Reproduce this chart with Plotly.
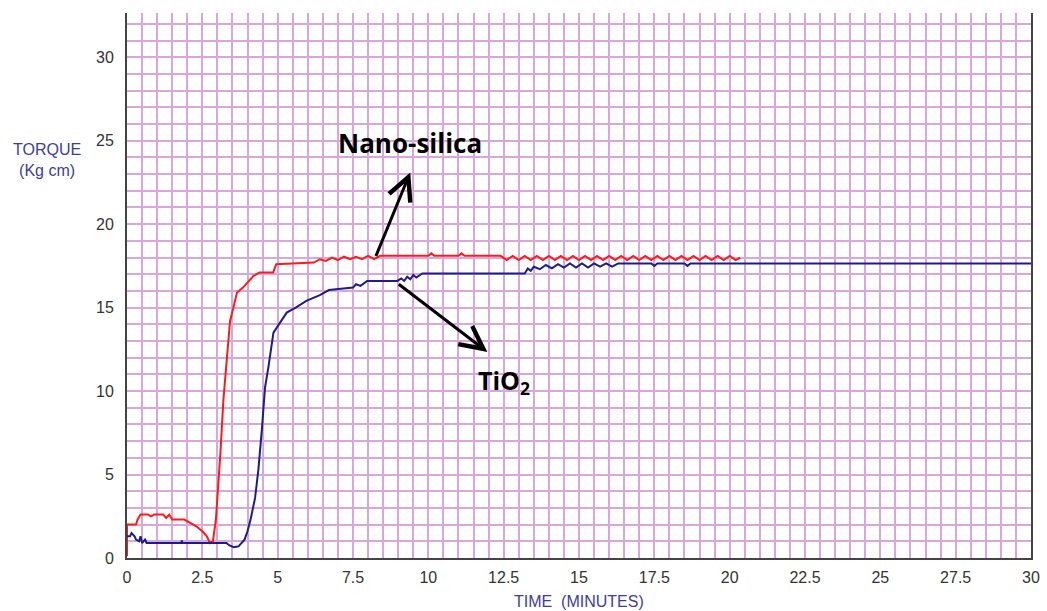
import plotly.graph_objects as go

# ---- data ----
nano_t = [0, 0, 0.3, 0.35, 0.45, 0.7, 0.8, 0.9, 1.2, 1.3, 1.4, 1.5, 1.9, 2.1, 2.3, 2.5, 2.65,
          2.75, 2.85, 2.95, 3.0, 3.1, 3.2, 3.3, 3.42, 3.53, 3.65, 3.85, 4.0, 4.2, 4.4, 4.85,
          4.95, 6.2, 6.4, 6.6, 6.8, 7.0, 7.2, 7.4, 7.6, 7.8, 8.0, 8.2, 8.4, 9.0, 10.0, 10.1,
          10.2, 11.0, 11.1, 11.2, 12.4, 12.6, 12.8, 13.0, 13.2, 13.4, 13.6, 13.8, 14.0, 14.2,
          14.4, 14.6, 14.8, 15.0, 15.2, 15.4, 15.6, 15.8, 16.0, 16.2, 16.4, 16.6, 16.8, 17.0,
          17.2, 17.4, 17.6, 17.8, 18.0, 18.2, 18.4, 18.6, 18.8, 19.0, 19.2, 19.4, 19.6, 19.8,
          20.0, 20.2, 20.35]
nano_y = [0.1, 2.0, 2.0, 2.3, 2.6, 2.6, 2.5, 2.6, 2.6, 2.4, 2.6, 2.3, 2.3, 2.1, 1.9, 1.6, 1.3,
          0.9, 1.0, 2.3, 3.5, 6.3, 9.5, 11.9, 14.2, 15.0, 15.9, 16.2, 16.5, 16.9, 17.1, 17.1,
          17.6, 17.7, 17.9, 17.8, 18.0, 17.85, 18.05, 17.9, 18.05, 17.9, 18.1, 17.9, 18.1, 18.1,
          18.1, 18.25, 18.1, 18.1, 18.25, 18.1, 18.1, 17.85, 18.1, 17.85, 18.1, 17.85, 18.1,
          17.85, 18.1, 17.85, 18.1, 17.85, 18.1, 17.85, 18.1, 17.85, 18.1, 17.85, 18.1, 17.85,
          18.1, 17.85, 18.1, 17.85, 18.1, 17.85, 18.1, 17.85, 18.1, 17.85, 18.1, 17.85, 18.1,
          17.85, 18.1, 17.85, 18.1, 17.85, 18.1, 17.85, 18.0]

tio2_t = [0, 0.1, 0.15, 0.25, 0.3, 0.4, 0.45, 0.5, 0.6, 0.65, 1.8, 1.82, 1.84, 3.3, 3.4, 3.55,
          3.7, 3.8, 3.9, 4.0, 4.1, 4.25, 4.36, 4.48, 4.58, 4.69, 4.86, 5.08, 5.3, 5.6, 5.95,
          6.4, 6.7, 7.5, 7.6, 7.75, 7.97, 8.97, 9.1, 9.2, 9.3, 9.4, 9.5, 9.6, 9.8, 13.2, 13.3,
          13.4, 13.5, 13.7, 13.9, 14.1, 14.3, 14.5, 14.7, 14.9, 15.1, 15.3, 15.5, 15.7, 15.9,
          16.1, 16.3, 16.6, 17.4, 17.5, 17.6, 18.5, 18.6, 18.7, 30]
tio2_y = [1.3, 1.3, 1.5, 1.3, 1.1, 1.0, 1.3, 0.9, 1.1, 0.9, 0.9, 1.05, 0.9, 0.9, 0.75, 0.65,
          0.7, 0.9, 1.1, 1.6, 2.3, 3.6, 5.3, 7.8, 10.2, 11.4, 13.5, 14.1, 14.7, 15.0, 15.4,
          15.75, 16.05, 16.2, 16.4, 16.3, 16.6, 16.6, 16.75, 16.6, 16.85, 16.7, 16.95, 16.8,
          17.05, 17.05, 17.35, 17.2, 17.45, 17.3, 17.55, 17.35, 17.6, 17.4, 17.65, 17.4, 17.65,
          17.4, 17.65, 17.45, 17.65, 17.45, 17.65, 17.65, 17.65, 17.5, 17.65, 17.65, 17.5,
          17.65, 17.65]

x_ticks = [0, 2.5, 5, 7.5, 10, 12.5, 15, 17.5, 20, 22.5, 25, 27.5, 30]
x_labels = ["0", "2.5", "5", "7.5", "10", "12.5", "15", "17.5", "20", "22.5", "25", "27.5", "30"]
y_ticks = [0, 5, 10, 15, 20, 25, 30]

GRID = "#d8a7dc"
NARROW = "Liberation Sans Narrow, Arial Narrow, Liberation Sans, sans-serif"
TICKFONT = dict(family=NARROW, size=16, color="#333333")
TITLECOLOR = "#3d3d9e"

fig = go.Figure()
fig.add_trace(go.Scatter(x=nano_t, y=nano_y, mode="lines", name="Nano-silica",
                         line=dict(color="#ff1a1a", width=2)))
fig.add_trace(go.Scatter(x=tio2_t, y=tio2_y, mode="lines", name="TiO2",
                         line=dict(color="#1c1c8c", width=2)))

fig.update_layout(
    width=1047, height=611,
    margin=dict(l=127, r=16, t=13, b=53, autoexpand=False),
    paper_bgcolor="white", plot_bgcolor="white",
    showlegend=False,
    xaxis=dict(range=[0, 30], tickvals=x_ticks, ticktext=x_labels, tickfont=TICKFONT,
               showgrid=True, gridcolor=GRID, gridwidth=2,
               minor=dict(dtick=0.5, showgrid=True, gridcolor=GRID, gridwidth=2),
               showline=True, linecolor="#444444", linewidth=2, mirror=False,
               zeroline=False, ticks="", ticklabelstandoff=4, automargin=False),
    yaxis=dict(range=[0, 32.65], tickvals=y_ticks, tickfont=TICKFONT,
               showgrid=True, gridcolor=GRID, gridwidth=2,
               minor=dict(dtick=1, showgrid=True, gridcolor=GRID, gridwidth=2),
               showline=True, linecolor="#444444", linewidth=2, mirror=True,
               zeroline=False, ticks="", ticklabelstandoff=8, automargin=False),
)

fig.add_annotation(xref="paper", yref="paper", x=-0.088, y=0.73, xanchor="center",
                   yanchor="middle", showarrow=False, align="center",
                   text="TORQUE<br>(Kg cm)",
                   font=dict(family=NARROW, size=16, color=TITLECOLOR))
fig.add_annotation(xref="paper", yref="paper", x=0.5, y=-0.08, xanchor="center",
                   yanchor="middle", showarrow=False,
                   text="TIME&nbsp;&nbsp;(MINUTES)",
                   font=dict(family=NARROW, size=16, color=TITLECOLOR))

# arrows
fig.add_annotation(x=9.4, y=23.1, ax=8.24, ay=18.0, xref="x", yref="y", axref="x", ayref="y",
                   text="", showarrow=True, arrowhead=5, arrowsize=1.5, arrowwidth=3,
                   arrowcolor="black")
fig.add_annotation(x=11.96, y=12.34, ax=8.97, ay=16.47, xref="x", yref="y", axref="x", ayref="y",
                   text="", showarrow=True, arrowhead=5, arrowsize=1.5, arrowwidth=3,
                   arrowcolor="black")
fig.add_annotation(x=9.4, y=24.85, xref="x", yref="y", showarrow=False, xanchor="center",
                   yanchor="middle", text="<b>Nano-silica</b>",
                   font=dict(family="Open Sans, sans-serif", size=26, color="black"))
fig.add_annotation(x=12.5, y=10.6, xref="x", yref="y", showarrow=False, xanchor="center",
                   yanchor="middle", text="<b>TiO<sub>2</sub></b>",
                   font=dict(family="Open Sans, sans-serif", size=25, color="black"))

fig.write_html("out.html")
